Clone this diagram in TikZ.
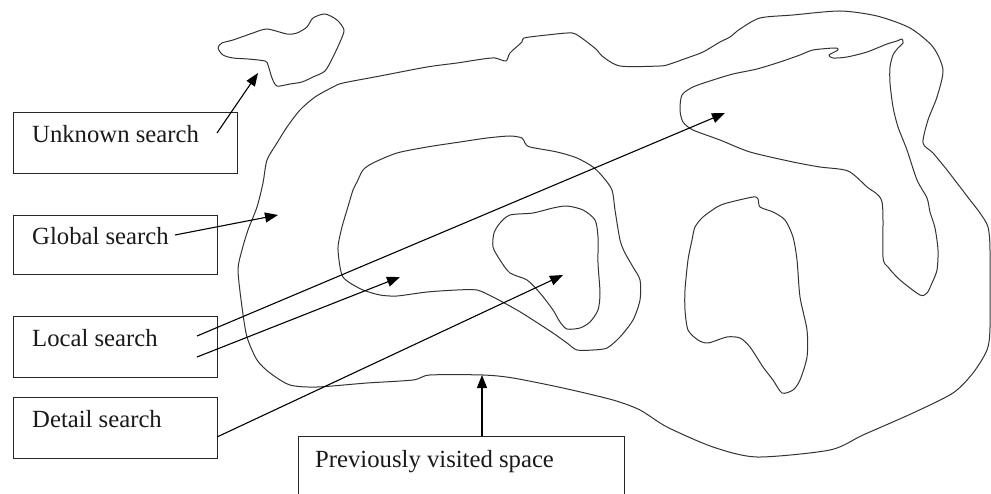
\documentclass[tikz,border=0pt]{standalone}
\usepackage{fontspec}
\setmainfont{Liberation Serif}
\usetikzlibrary{arrows.meta}
\begin{document}
\begin{tikzpicture}[x=1pt,y=-1pt,
  box/.style={draw=black!85,line width=1pt,rectangle,inner sep=0pt,anchor=north west},
  lbl/.style={inner sep=0pt,anchor=base west,font=\fontsize{24.7}{29}\selectfont,text=black!90},
  blob/.style={draw=black!80,line width=1pt,line join=round},
  arr/.style={draw=black,line width=1.1pt,-{Triangle[length=13pt,width=10pt]}}]
\useasboundingbox (0,0) rectangle (991,494);
\clip (0,0) rectangle (991,494);
% small unknown blob
\draw[blob] plot[smooth cycle,tension=0.45] coordinates {
 (218,48) (222,43) (233,40) (253,33) (267,29) (287,34) (297,33) (307,27) (313,18)
 (325,14) (337,20) (344,30) (340,42) (333,57) (325,71) (313,77) (302,82) (290,84)
 (277,86) (272,78) (268,65) (265,61) (248,59) (233,58) (223,55)};
% outer blob (previously visited space)
\draw[blob] plot[smooth cycle,tension=0.45] coordinates {
 (242,250) (248,230) (257,207) (263,183) (267,160) (277,143) (287,127) (300,110)
 (315,97) (333,87) (343,83) (380,76) (427,67) (457,63) (483,59) (495,58) (506,61)
 (510,53) (522,42) (524,38) (547,35) (572,33) (583,39) (597,50) (602,56) (620,66)
 (660,66) (670,64) (687,58) (703,52) (720,42) (730,37) (740,29) (760,18) (793,15)
 (840,11) (877,16) (910,28) (933,47) (943,70) (937,97) (928,120) (923,143) (933,153)
 (947,170) (957,183) (970,200) (980,213) (988,227) (990,250) (990,327) (987,350)
 (973,373) (953,393) (913,413) (863,435) (830,450) (757,457) (713,447) (667,427)
 (640,410) (613,400) (563,388) (513,378) (483,375) (430,375) (413,380) (367,383)
 (317,387) (290,385) (270,373) (257,360) (247,337) (242,307) (238,270)};
% hook blob (top right)
\draw[blob] plot[smooth cycle,tension=0.45] coordinates {
 (682,95) (680,110) (683,122) (693,130) (720,140) (750,152) (793,162) (820,167)
 (848,171) (867,187) (882,202) (883,257) (888,267) (900,280) (920,295) (927,293)
 (932,283) (937,270) (938,250) (935,228) (930,212) (927,198) (917,180) (907,150)
 (898,127) (893,107) (890,83) (890,67) (893,55) (898,48) (903,43) (902,39) (897,41)
 (887,44) (867,52) (847,57) (833,58) (829,55) (838,50) (835,48) (813,50) (800,55)
 (780,62) (757,69) (733,74) (713,80) (693,87)};
% middle local blob
\draw[blob] plot[smooth cycle,tension=0.45] coordinates {
 (363,170) (373,163) (397,153) (427,147) (460,142) (487,138) (510,136) (522,138)
 (525,143) (530,147) (557,152) (577,158) (593,167) (603,177) (612,190) (615,210)
 (620,240) (625,253) (633,267) (640,280) (640,300) (633,320) (620,337) (607,348)
 (593,350) (577,350) (567,343) (553,333) (533,320) (517,310) (493,297) (477,290)
 (457,290) (427,292) (397,296) (380,295) (363,290) (350,283) (343,277) (340,267)
 (338,247) (342,227) (347,210) (353,190) (357,182)};
% detail blob
\draw[blob] plot[smooth cycle,tension=0.45] coordinates {
 (510,215) (533,213) (553,208) (567,206) (583,210) (595,220) (598,237) (598,263)
 (600,293) (598,310) (590,322) (580,328) (567,329) (560,322) (553,310) (540,293)
 (527,280) (510,273) (500,260) (493,247) (494,233) (500,223)};
% bottle blob
\draw[blob] plot[smooth cycle,tension=0.45] coordinates {
 (695,227) (703,217) (717,207) (727,203) (753,197) (758,199) (760,207) (773,212)
 (785,220) (793,237) (797,260) (800,297) (807,330) (807,357) (800,380) (793,390)
 (782,393) (773,380) (763,367) (750,347) (740,338) (727,337) (708,343) (698,340)
 (688,330) (685,310) (685,290) (688,260) (692,240)};
% boxes
\node[box,minimum width=224pt,minimum height=61pt] (ubox) at (13,112) {};
\node[box,minimum width=204pt,minimum height=59pt] (gbox) at (13,215) {};
\node[box,minimum width=204pt,minimum height=61pt] (lbox) at (13,316) {};
\node[box,minimum width=204pt,minimum height=61pt] (dbox) at (13,397) {};
\node[box,minimum width=326pt,minimum height=90pt] (pbox) at (298,436) {};
% labels
\node[lbl] (ut) at (32,143) {Unknown search};
\node[lbl] (gt) at (32,245) {Global search};
\node[lbl] (lt) at (32,347) {Local search};
\node[lbl] (dt) at (32,427) {Detail search};
\node[lbl] (pt) at (315,467) {Previously visited space};
% arrow ends
\coordinate (u0) at (217,133); \coordinate (u1) at (258,73);
\coordinate (g0) at (175,235); \coordinate (g1) at (278,215);
\coordinate (la0) at (197,336); \coordinate (la1) at (725,113);
\coordinate (lb0) at (197,357); \coordinate (lb1) at (400,277);
\coordinate (d0) at (217,437); \coordinate (d1) at (563,275);
\coordinate (p0) at (482,436); \coordinate (p1) at (482,375);
\draw[arr] (u0) -- (u1);
\draw[arr] (g0) -- (g1);
\draw[arr] (la0) -- (la1);
\draw[arr] (lb0) -- (lb1);
\draw[arr] (d0) -- (d1);
\draw[arr] (p0) -- (p1);
\end{tikzpicture}
\end{document}
